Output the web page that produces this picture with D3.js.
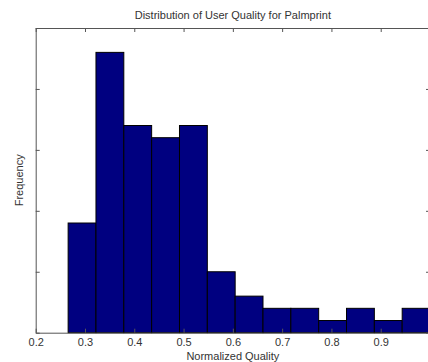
<!DOCTYPE html>
<html><head><meta charset="utf-8">
<script src="https://cdn.jsdelivr.net/npm/d3@7"></script>
<style>body{margin:0;background:#fff;}svg{display:block;}</style>
</head><body>
<script>
const binStart = 0.2658;
const binWidth = 0.05648;
const counts = [9, 23, 17, 16, 17, 5, 3, 2, 2, 1, 2, 1, 2];
const xTicks = [0.2, 0.3, 0.4, 0.5, 0.6, 0.7, 0.8, 0.9, 1.0];
const yTicks = [0, 5, 10, 15, 20, 25];
const title = "Distribution of User Quality for Palmprint";
const xLabel = "Normalized Quality";
const yLabel = "Frequency";

const W = 428, H = 362;
const m = {left: 35.7, right: 430, top: 28, bottom: 332.7};
const FS = "11px";
const FF = "'Liberation Sans', Arial, sans-serif";
const svg = d3.select("body").append("svg").attr("width", W).attr("height", H)
  .style("font-family", FF);

const x = d3.scaleLinear().domain([0.2, 1.0]).range([m.left, m.right]);
const y = d3.scaleLinear().domain([0, 25]).range([m.bottom, m.top]);

const bins = counts.map((c, i) => ({x0: binStart + i * binWidth, x1: binStart + (i + 1) * binWidth, c}));

svg.append("g").selectAll("rect").data(bins).join("rect")
  .attr("x", d => x(d.x0)).attr("width", d => x(d.x1) - x(d.x0))
  .attr("y", d => y(d.c)).attr("height", d => y(0) - y(d.c))
  .attr("fill", "#000080").attr("stroke", "#000").attr("stroke-width", 1);

const axColor = "#555";
const tl = 4;
const gb = svg.append("g").attr("transform", `translate(0,${m.bottom})`)
  .call(d3.axisBottom(x).tickValues(xTicks).tickSizeInner(-tl).tickSizeOuter(0).tickPadding(6)
    .tickFormat(d => d === 1 ? "" : d3.format(".1f")(d)));
const gt = svg.append("g").attr("transform", `translate(0,${m.top})`)
  .call(d3.axisTop(x).tickValues(xTicks).tickSizeInner(-tl).tickSizeOuter(0).tickFormat(""));
const gl = svg.append("g").attr("transform", `translate(${m.left},0)`)
  .call(d3.axisLeft(y).tickValues(yTicks).tickSizeInner(-tl).tickSizeOuter(0).tickFormat(""));
const gr = svg.append("g").attr("transform", `translate(${m.right},0)`)
  .call(d3.axisRight(y).tickValues(yTicks).tickSizeInner(-tl).tickSizeOuter(0).tickFormat(""));

[gb, gt, gl, gr].forEach(g => {
  g.select(".domain").attr("stroke", axColor);
  g.selectAll(".tick line").attr("stroke", axColor);
  g.selectAll("text").attr("fill", "#333").style("font-size", FS).style("font-family", FF);
});

svg.append("text").attr("x", (m.left + m.right) / 2).attr("y", 19)
  .attr("text-anchor", "middle").attr("font-size", FS).attr("fill", "#333").text(title);
svg.append("text").attr("x", (m.left + m.right) / 2).attr("y", 360)
  .attr("text-anchor", "middle").attr("font-size", FS).attr("fill", "#333").text(xLabel);
svg.append("text").attr("transform", `translate(23,${(m.top + m.bottom) / 2}) rotate(-90)`)
  .attr("text-anchor", "middle").attr("font-size", FS).attr("fill", "#333").text(yLabel);
</script>
</body></html>
